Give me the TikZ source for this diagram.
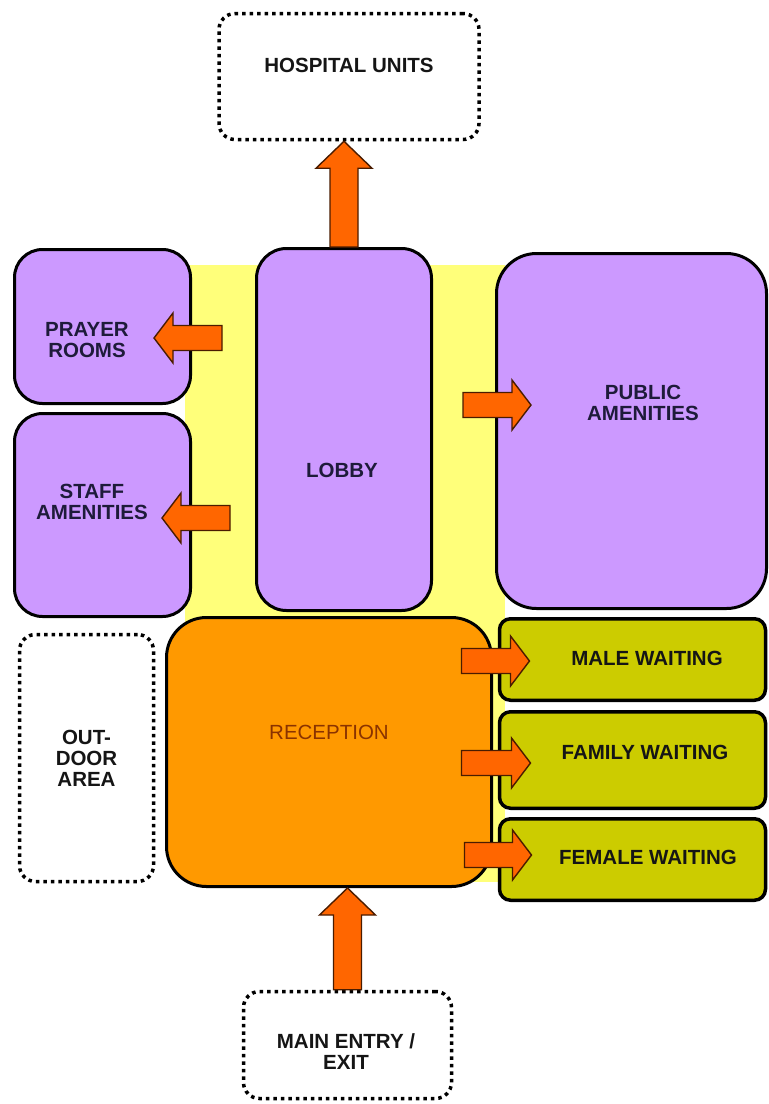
\documentclass[tikz,border=0pt]{standalone}
\usepackage{fontspec}
\setmainfont{Liberation Sans}
\usetikzlibrary{calc,positioning}
\definecolor{roomLilac}{HTML}{CC99FF}
\definecolor{courtYellow}{HTML}{FFFF7A}
\definecolor{recepOrange}{HTML}{FF9900}
\definecolor{arrowOrange}{HTML}{FF6600}
\definecolor{arrowEdge}{HTML}{4A1C00}
\definecolor{waitOlive}{HTML}{CCCC00}
\definecolor{inkNavy}{HTML}{1E1B3A}
\definecolor{inkBlack}{HTML}{151515}
\definecolor{inkBrown}{HTML}{8A3300}

\begin{document}
\begin{tikzpicture}[x=1pt, y=-1pt]
\tikzset{
  p/.style={rectangle, rounded corners=#1, draw=black, line width=3pt, fill=roomLilac, inner sep=0pt},
  w/.style={rectangle, rounded corners=11pt, draw=black, line width=3.5pt, fill=waitOlive,
            inner sep=0pt, outer sep=0pt, minimum width=266pt},
  o/.style={rectangle, rounded corners=16pt, draw=black, line width=3.5pt,
            dash pattern=on 3.5pt off 4pt, fill=white, inner sep=0pt},
  rc/.style={rectangle, rounded corners=40pt, draw=black, line width=3pt, fill=recepOrange, inner sep=0pt},
  sz/.style 2 args={minimum width=#1, minimum height=#2},
  t/.style={font=\fontsize{20.5}{21}\selectfont\bfseries, align=center, text=inkNavy},
  tk/.style={t, text=inkBlack},
  ba/.style n args={3}{draw=arrowEdge, line width=1.4pt, fill=arrowOrange, line join=miter,
    to path={let \p1=(\tikztostart), \p2=(\tikztotarget),
             \n1={atan2(\y2-\y1,\x2-\x1)}, \n2={veclen(\x2-\x1,\y2-\y1)} in
             [shift={(\p1)}, rotate=\n1]
             (0,-#1) -- (\n2-#3,-#1) -- (\n2-#3,-#2) -- (\n2,0)
             -- (\n2-#3,#2) -- (\n2-#3,#1) -- (0,#1) -- cycle}},
  av/.style={ba={14}{28}{27}},
  ah/.style={ba={12.5}{25}{19}}
}
\useasboundingbox (0,0) rectangle (769,1104);

% Courtyard behind the core
\fill[courtYellow] (185,265) rectangle (505,882);

% Rooms
\node[o, sz={260pt}{126pt}, label={[tk, yshift=11.5pt]center:HOSPITAL UNITS}] (hosp) at (349,76.5) {};
\node[p=28pt, sz={176pt}{154pt}, label={[t, xshift=-15.5pt, yshift=-13.5pt]center:PRAYER\\ROOMS}] (prayer) at (102.5,326.5) {};
\node[p=28pt, sz={176pt}{203pt}, label={[t, xshift=-10.5pt, yshift=13pt]center:STAFF\\AMENITIES}] (staff) at (102.5,515) {};
\node[p=30pt, sz={175pt}{362pt}, label={[t, xshift=-2pt, yshift=-40.5pt]center:LOBBY}] (lobby) at (344,429.5) {};
\node[p=40pt, sz={270pt}{355pt}, label={[t, xshift=11.5pt, yshift=28pt]center:PUBLIC\\AMENITIES}] (public) at (631.5,431) {};
\node[o, sz={134pt}{247pt}, tk] (outdoor) at (86.5,758) {OUT-\\DOOR\\AREA};
\node[rc, sz={325pt}{269pt}, label={[t, font=\fontsize{20.5}{21}\selectfont, text=inkBrown, yshift=20pt]center:RECEPTION}] (recep) at (329,752) {};

% Waiting rooms
\node[w, minimum height=81.5pt, label={[tk, xshift=14.5pt, yshift=1.5pt]center:MALE WAITING}] (male) at (632.5,659.5) {};
\node[w, minimum height=96.5pt, below=11.5pt of male, label={[tk, xshift=12.5pt, yshift=8pt]center:FAMILY WAITING}] (family) {};
\node[w, minimum height=81.5pt, below=10.5pt of family, label={[tk, xshift=15.5pt, yshift=2.5pt]center:FEMALE WAITING}] (female) {};

\node[o, sz={208pt}{107pt}, label={[tk, xshift=-1.5pt, yshift=-7pt]center:MAIN ENTRY /\\EXIT}] (entry) at (347.5,1045) {};

% Movement
\draw[av] (lobby.north) to (lobby.north |- hosp.south);
\draw[av] (entry.north) to (entry.north |- recep.south);
\draw[ah] ($(prayer.east)+(30,11.5)$) to ($(prayer.east)+(-38,11.5)$);
\draw[ah] ($(staff.east)+(38,3)$) to ($(staff.east)+(-30,3)$);
\draw[ah] ($(public.west)+(-32,-26)$) to ($(public.west)+(36,-26)$);
\draw[ah] ($(male.west)+(-38,1.5)$) to ($(male.west)+(30,1.5)$);
\draw[ah] ($(family.west)+(-38,3)$) to ($(family.west)+(31,3)$);
\draw[ah] ($(female.west)+(-35,-4.5)$) to ($(female.west)+(32,-4.5)$);
\end{tikzpicture}
\end{document}
